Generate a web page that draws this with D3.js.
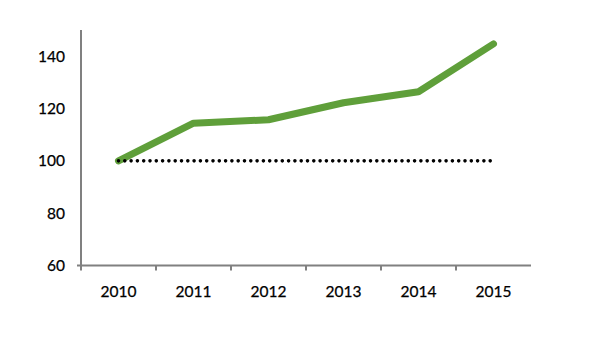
<!DOCTYPE html>
<html>
<head>
<meta charset="utf-8">
<script src="https://cdn.jsdelivr.net/npm/d3@7/dist/d3.min.js"></script>
<style>
  html, body { margin: 0; padding: 0; background: #fff; }
  svg { display: block; }
  .lbl { font-family: Lato, "Open Sans", sans-serif; font-size: 15.5px; fill: #000; stroke: #000; stroke-width: 0.25px; }
</style>
</head>
<body>
<svg id="chart" width="591" height="342"></svg>
<script>
// Index values (2010 = 100)
const years = ["2010", "2011", "2012", "2013", "2014", "2015"];
const indexValues = [100, 114.4, 115.7, 122.2, 126.4, 144.7];
const baselineValue = 100;
const yTicks = [60, 80, 100, 120, 140];

const svg = d3.select("#chart");
const plotLeft = 81, plotRight = 531, plotTop = 30, plotBottom = 265.5;

const x = d3.scaleBand().domain(years).range([plotLeft, plotRight]);
const y = d3.scaleLinear().domain([60, 150]).range([plotBottom, plotTop]);
const cx = d => x(d) + x.bandwidth() / 2;

const axisColor = "#808080";

// Y axis line
svg.append("line")
  .attr("x1", plotLeft).attr("x2", plotLeft)
  .attr("y1", y(150)).attr("y2", y(60))
  .attr("stroke", axisColor).attr("stroke-width", 2);

// Y tick labels
svg.selectAll(".ylab").data(yTicks).enter().append("text")
  .attr("class", "lbl")
  .attr("x", 65).attr("y", d => y(d))
  .attr("dy", "0.36em")
  .attr("text-anchor", "end")
  .text(d => d);

// X axis line and category boundary ticks
svg.append("line")
  .attr("x1", plotLeft - 4).attr("x2", plotRight)
  .attr("y1", plotBottom).attr("y2", plotBottom)
  .attr("stroke", axisColor).attr("stroke-width", 2);

const boundaries = years.map(d => x(d));
svg.selectAll(".xtick").data(boundaries).enter().append("line")
  .attr("x1", d => d).attr("x2", d => d)
  .attr("y1", plotBottom).attr("y2", plotBottom + 5)
  .attr("stroke", axisColor).attr("stroke-width", 2);

// X labels
svg.selectAll(".xlab").data(years).enter().append("text")
  .attr("class", "lbl")
  .attr("x", d => cx(d)).attr("y", 297)
  .attr("text-anchor", "middle")
  .text(d => d);

// Index line
const line = d3.line().x((d, i) => cx(years[i])).y(d => y(d));
svg.append("path")
  .datum(indexValues)
  .attr("d", line)
  .attr("fill", "none")
  .attr("stroke", "#5f9f3a")
  .attr("stroke-width", 7)
  .attr("stroke-linejoin", "round")
  .attr("stroke-linecap", "round");

// Baseline (dotted)
svg.append("line")
  .attr("x1", cx(years[0])).attr("x2", cx(years[years.length - 1]))
  .attr("y1", y(baselineValue)).attr("y2", y(baselineValue))
  .attr("stroke", "#000")
  .attr("stroke-width", 3.6)
  .attr("stroke-linecap", "round")
  .attr("stroke-dasharray", "0 6.3");
</script>
</body>
</html>
